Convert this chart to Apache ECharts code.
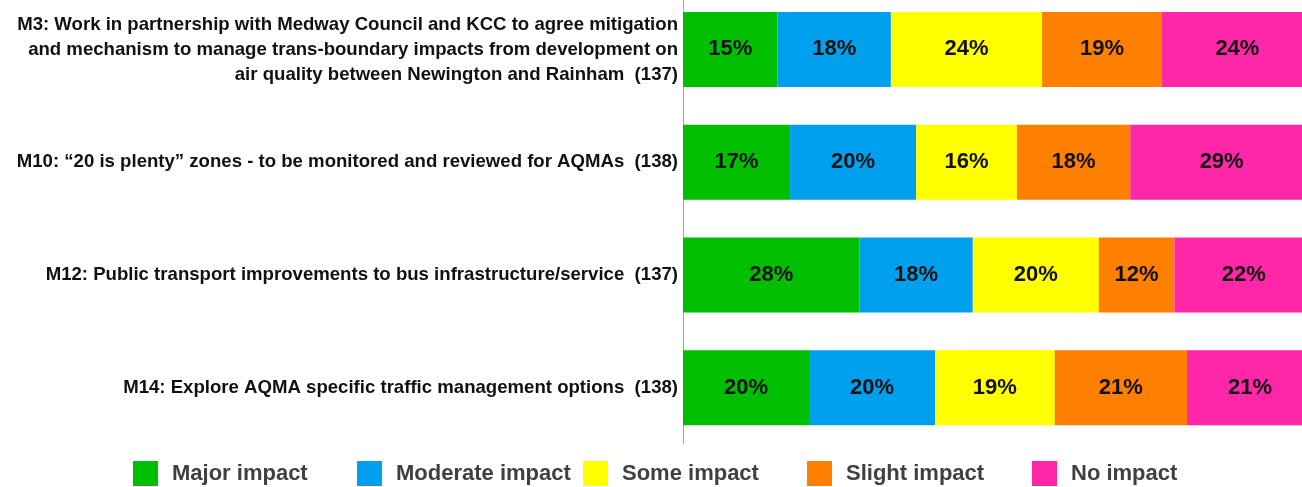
<!DOCTYPE html>
<html>
<head>
<meta charset="utf-8">
<script src="https://cdn.jsdelivr.net/npm/echarts@6/dist/echarts.min.js"></script>
<style>
	html, body { margin: 0; padding: 0; background: #fff; overflow: hidden; width: 1302px; height: 487px; position: relative; }
	/* the original plot runs past the right and top edges of the picture */
	#chart { position: absolute; left: 0; top: -7px; width: 1313px; height: 494px; }
</style>
</head>
<body>
<div id="chart"></div>
<script>
	// measures (top to bottom)
	var categories = [
		'M3: Work in partnership with Medway Council and KCC to agree mitigation\nand mechanism to manage trans-boundary impacts from development on\nair quality between Newington and Rainham  (137)',
		'M10: \u201c20 is plenty\u201d zones - to be monitored and reviewed for AQMAs  (138)',
		'M12: Public transport improvements to bus infrastructure/service  (137)',
		'M14: Explore AQMA specific traffic management options  (138)'
	];
	var seriesNames = ['Major impact', 'Moderate impact', 'Some impact', 'Slight impact', 'No impact'];
	var majorImpact = [15, 17, 28, 20];
	var moderateImpact = [18, 20, 18, 20];
	var someImpact = [24, 16, 20, 19];
	var slightImpact = [19, 18, 12, 21];
	var noImpact = [24, 29, 22, 21];

	var colors = ['#00bf00', '#00a0ee', '#ffff00', '#ff7f00', '#ff26a8'];
	var values = [majorImpact, moderateImpact, someImpact, slightImpact, noImpact];
	var legendLeft = [133, 357, 583, 807, 1032];

	var myChart = echarts.init(document.getElementById('chart'));

	var series = seriesNames.map(function (name, i) {
		return {
			name: name,
			type: 'bar',
			stack: 'total',
			barWidth: 75,
			data: values[i],
			itemStyle: { color: colors[i] },
			label: {
				show: true,
				position: 'inside',
				formatter: '{c}%',
				color: '#111',
				fontFamily: 'Liberation Sans, Arial',
				fontWeight: 'bold',
				fontSize: 22
			}
		};
	});

	// one legend per item so the spacing is fixed like in the original
	var legends = seriesNames.map(function (name, i) {
		return {
			data: [name],
			left: legendLeft[i],
			top: 468,
			padding: 0,
			itemWidth: 25,
			itemHeight: 25,
			icon: 'rect',
			textStyle: {
				color: '#404040',
				fontFamily: 'Liberation Sans, Arial',
				fontWeight: 'bold',
				fontSize: 22,
				padding: [0, 0, 0, 9]
			}
		};
	});

	myChart.setOption({
		animation: false,
		color: colors,
		legend: legends,
		grid: {
			left: 683,
			right: 0,
			top: 0,
			bottom: 43
		},
		xAxis: {
			type: 'value',
			min: 0,
			max: 100,
			show: false
		},
		yAxis: {
			type: 'category',
			inverse: true,
			data: categories,
			axisTick: { show: false },
			axisLine: {
				show: true,
				lineStyle: { color: '#a6a6a6', width: 1 }
			},
			axisLabel: {
				margin: 5,
				color: '#111',
				fontFamily: 'Liberation Sans, Arial',
				fontWeight: 'bold',
				fontSize: 18.6,
				lineHeight: 25,
				align: 'right'
			}
		},
		series: series
	});
</script>
</body>
</html>
